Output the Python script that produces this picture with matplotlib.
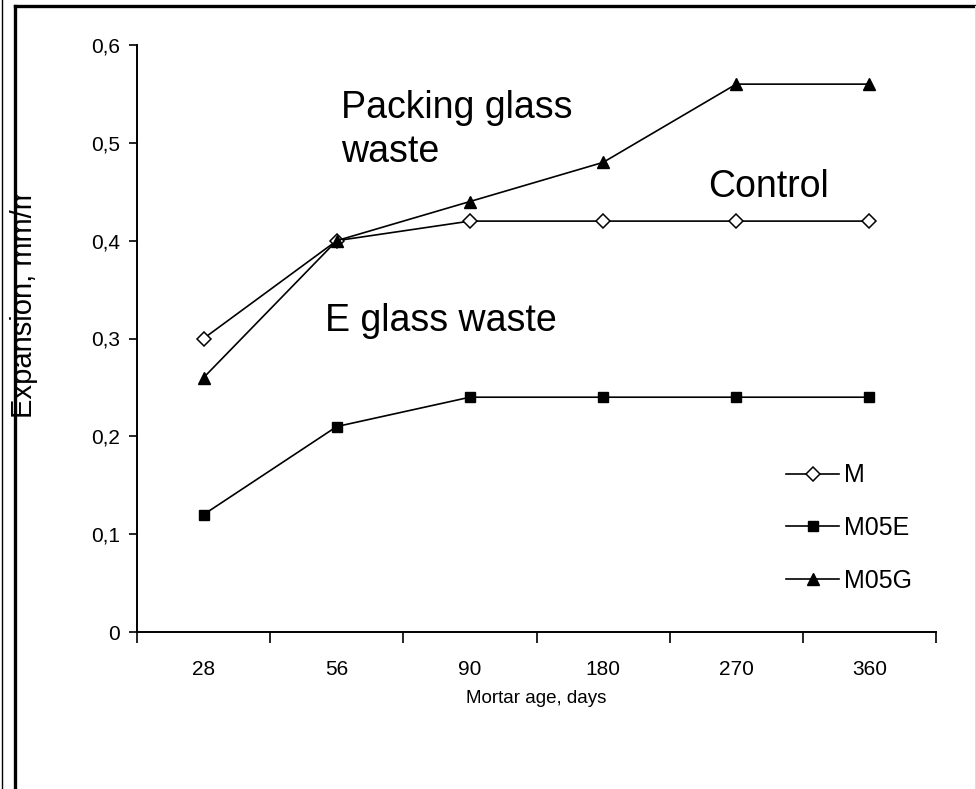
import numpy as np
import matplotlib
matplotlib.use("Agg")
import matplotlib.pyplot as plt
from matplotlib.lines import Line2D
from matplotlib.transforms import Bbox

plt.rcParams['font.family'] = ['Liberation Sans', 'DejaVu Sans']

# data
ages = ["28", "56", "90", "180", "270", "360"]
m_ctrl = [0.30, 0.40, 0.42, 0.42, 0.42, 0.42]
m05e = [0.12, 0.21, 0.24, 0.24, 0.24, 0.24]
m05g = [0.26, 0.40, 0.44, 0.48, 0.56, 0.56]
y_ticks = [0, 0.1, 0.2, 0.3, 0.4, 0.5, 0.6]

fig = plt.figure(figsize=(9.76, 7.89), dpi=100)
ax = fig.add_axes([137 / 976, 1 - 632 / 789, 799 / 976, 587 / 789])

x = np.arange(len(ages)) + 0.5
ax.plot(x, m_ctrl, color='black', lw=1.2, marker='D', ms=7.5, mfc='white',
        mec='black', mew=1.1, label='M')
ax.plot(x, m05e, color='black', lw=1.2, marker='s', ms=7.5, mfc='black',
        mec='black', label='M05E')
ax.plot(x, m05g, color='black', lw=1.2, marker='^', ms=9, mfc='black',
        mec='black', label='M05G')

ax.set_xlim(0, len(ages))
ax.set_ylim(0, 0.6)
ax.set_xticks(np.arange(len(ages) + 1))
ax.set_xticklabels([])
ax.set_xticks(x, minor=True)
ax.set_xticklabels(ages, minor=True)
ax.tick_params(axis='x', which='major', length=8, width=1.2, direction='out')
ax.tick_params(axis='x', which='minor', length=0, pad=20, labelsize=15)
ax.set_yticks(y_ticks)
ax.set_yticklabels([f"{v:g}".replace('.', ',') for v in y_ticks])
ax.tick_params(axis='y', length=6, width=1.2, direction='out', labelsize=15, pad=6)

for s in ['top', 'right']:
    ax.spines[s].set_visible(False)
for s in ['left', 'bottom']:
    ax.spines[s].set_linewidth(1.4)

ax.set_xlabel('Mortar age, days', fontsize=13.5, labelpad=8)

# y label is clipped at the top in the reference
ylab = fig.text(24 / 976, 1 - 302 / 789, 'Expansion, mm/m', rotation=90,
                ha='center', va='center', fontsize=21)
ylab.set_clip_box(Bbox.from_extents(0, 0, 976, 789 - 192))
ylab.set_clip_on(True)

ax.text(1.53, 0.525, 'Packing glass', fontsize=27, ha='left', va='baseline')
ax.text(1.53, 0.48, 'waste', fontsize=27, ha='left', va='baseline')
ax.text(4.29, 0.445, 'Control', fontsize=27, ha='left', va='baseline')
ax.text(1.41, 0.308, 'E glass waste', fontsize=27, ha='left', va='baseline')

ax.legend(loc='center left', bbox_to_anchor=(0.797, 0.177), frameon=False,
          fontsize=18, handlelength=2.1, handletextpad=0.2, labelspacing=1.15,
          borderpad=0)

# frame lines of the original figure
fig.add_artist(Line2D([2 / 976, 2 / 976], [0, 1], color='black', lw=1))
fig.add_artist(Line2D([15 / 976, 15 / 976], [0, 1 - 6 / 789], color='black', lw=2.4))
fig.add_artist(Line2D([15 / 976, 1], [1 - 6 / 789, 1 - 6 / 789], color='black', lw=2.4))
fig.add_artist(Line2D([975 / 976, 975 / 976], [0, 1 - 6 / 789], color='#dddddd', lw=0.8))

fig.savefig('out.png', dpi=100)
